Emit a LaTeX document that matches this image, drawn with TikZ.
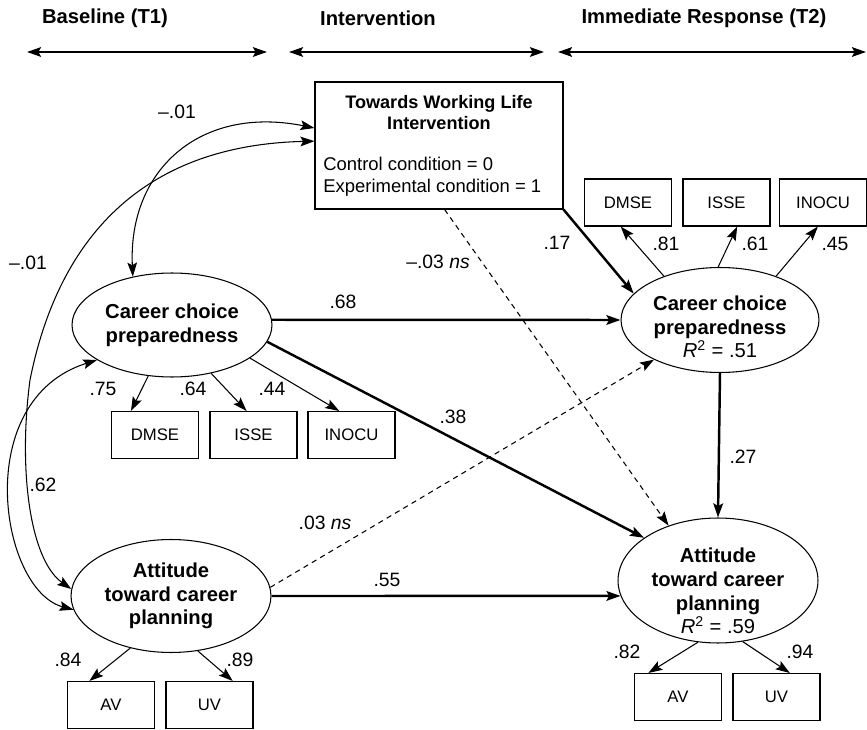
\documentclass[tikz,border=0pt]{standalone}
\usepackage{fontspec}
\setmainfont{Liberation Sans}
\usetikzlibrary{arrows.meta,shapes.geometric}

\begin{document}
\begin{tikzpicture}[x=0.02cm,y=-0.02cm,
    >={Stealth[length=8pt,width=5.5pt,inset=1.5pt]},
    head/.style={font=\fontsize{11.5}{13}\selectfont\bfseries},
    latent/.style={draw,ellipse,inner sep=0pt,line width=0.6pt,align=center,
      font=\fontsize{11.5}{13.5}\selectfont\bfseries},
    ltext/.style={align=center,inner sep=0pt,font=\fontsize{11.5}{13.5}\selectfont\bfseries},
    ind/.style={draw,line width=0.6pt,minimum width=1.74cm,minimum height=0.94cm,
      font=\fontsize{9.5}{11}\selectfont},
    coef/.style={font=\fontsize{11}{13}\selectfont},
    effect/.style={->,line width=1.4pt},
    nseffect/.style={->,line width=0.6pt,dash pattern=on 3pt off 2.5pt},
    loading/.style={->,line width=0.6pt},
    covar/.style={<->,line width=0.6pt}]
   \useasboundingbox (0,0) rectangle (867,730);

   % time line
   \node[head] (tbase) at (105,18) {Baseline (T1)};
   \node[head] (tint) at (378,18) {Intervention};
   \node[head] (tresp) at (704,18) {Immediate Response (T2)};
   \coordinate (b1) at (27,52);  \coordinate (b2) at (267,52);
   \coordinate (i1) at (289,52); \coordinate (i2) at (544,52);
   \coordinate (r1) at (558,52); \coordinate (r2) at (866,52);
   \draw[<->,line width=1.1pt] (b1) -- (b2);
   \draw[<->,line width=1.1pt] (i1) -- (i2);
   \draw[<->,line width=1.1pt] (r1) -- (r2);

   % intervention
   \node[draw,line width=0.6pt,minimum width=4.96cm,minimum height=2.54cm] (int) at (439,145.5) {};
   \node[align=center,font=\fontsize{10.3}{12}\selectfont\bfseries] (inttitle) at (439,112.5)
      {Towards Working Life\\Intervention};
   \node[anchor=west,align=left,inner sep=0pt,font=\fontsize{10.5}{12.5}\selectfont] (intcond) at (323,177)
      {Control condition = 0\\Experimental condition = 1};

   % latent variables
   \node[latent,minimum width=4cm,minimum height=2.08cm] (lccp) at (172,325) {Career choice\\preparedness};
   \node[latent,minimum width=4cm,minimum height=2.26cm] (latt) at (171,596) {Attitude\\toward career\\planning};
   \node[latent,minimum width=3.96cm,minimum height=2.1cm] (rccp) at (720,320) {};
   \node[ltext] (rccptxt) at (720,327) {Career choice\\preparedness\\\mdseries\textit{R}\textsuperscript{2} = .51};
   \node[latent,minimum width=4cm,minimum height=2.5cm] (ratt) at (718,580.5) {};
   \node[ltext] (ratttxt) at (718,591) {Attitude\\toward career\\planning\\\mdseries\textit{R}\textsuperscript{2} = .59};

   % indicators
   \node[ind] (ldmse) at (155,435) {DMSE};
   \node[ind] (lisse) at (253.5,435) {ISSE};
   \node[ind] (linocu) at (351.5,435) {INOCU};
   \node[ind] (rdmse) at (628,202.5) {DMSE};
   \node[ind] (risse) at (726.5,202.5) {ISSE};
   \node[ind] (rinocu) at (823,202.5) {INOCU};
   \node[ind] (lav) at (111,705) {AV};
   \node[ind] (luv) at (209.5,705) {UV};
   \node[ind] (rav) at (678,697) {AV};
   \node[ind] (ruv) at (776.5,697) {UV};

   % structural paths
   \draw[effect] (int.south east) -- (rccp.163);
   \draw[effect] (lccp.3) -- (rccp.west);
   \draw[effect] (lccp.350) -- (ratt.150);
   \draw[effect] (rccp.south) -- (ratt.north);
   \draw[effect] (latt.east) -- (ratt.189);
   \draw[nseffect] (int.275) -- (ratt.132);
   \draw[nseffect] (latt.5) -- (rccp.211);

   % loadings
   \draw[loading] (lccp.245) -- (ldmse.135);
   \draw[loading] (lccp.309) -- (lisse.106);
   \draw[loading] (lccp.337) -- (linocu.117);
   \draw[loading] (rccp.142) -- (rdmse.253);
   \draw[loading] (rccp.92) -- (risse.294);
   \draw[loading] (rccp.38) -- (rinocu.258);
   \draw[loading] (latt.232) -- (lav.132);
   \draw[loading] (latt.296) -- (luv.46);
   \draw[loading] (ratt.252) -- (rav.141);
   \draw[loading] (ratt.292) -- (ruv.61);

   % covariances
   \draw[covar] (lccp.129) .. controls (128,170) and (200,105) .. (int.172);
   \draw[covar] (int.178) .. controls (150,145) and (60,230) .. (30,380)
      .. controls (18,470) and (30,560) .. (latt.176);
   \draw[covar] (lccp.205) .. controls (-30,400) and (0,590) .. (latt.188);

   % coefficients
   \node[coef] (kint1) at (177,112) {\textendash.01};
   \node[coef] (kint2) at (28,263) {\textendash.01};
   \node[coef] (kcov) at (43,485) {.62};
   \node[coef] (kl1) at (103,389) {.75};
   \node[coef] (kl2) at (193,389) {.64};
   \node[coef] (kl3) at (272,389) {.44};
   \node[coef] (kr1) at (666,244) {.81};
   \node[coef] (kr2) at (755,244) {.61};
   \node[coef] (kr3) at (835,244) {.45};
   \node[coef] (kla1) at (68,660) {.84};
   \node[coef] (kla2) at (240,660) {.89};
   \node[coef] (kra1) at (627,652) {.82};
   \node[coef] (kra2) at (800,652) {.94};
   \node[coef] (kp1) at (557,243) {.17};
   \node[coef] (kp2) at (438,262) {\textendash.03 \textit{ns}};
   \node[coef] (kp3) at (343,302) {.68};
   \node[coef] (kp4) at (453,417) {.38};
   \node[coef] (kp5) at (743,457) {.27};
   \node[coef] (kp6) at (387,580) {.55};
   \node[coef] (kp7) at (325,523) {.03 \textit{ns}};
\end{tikzpicture}
\end{document}
